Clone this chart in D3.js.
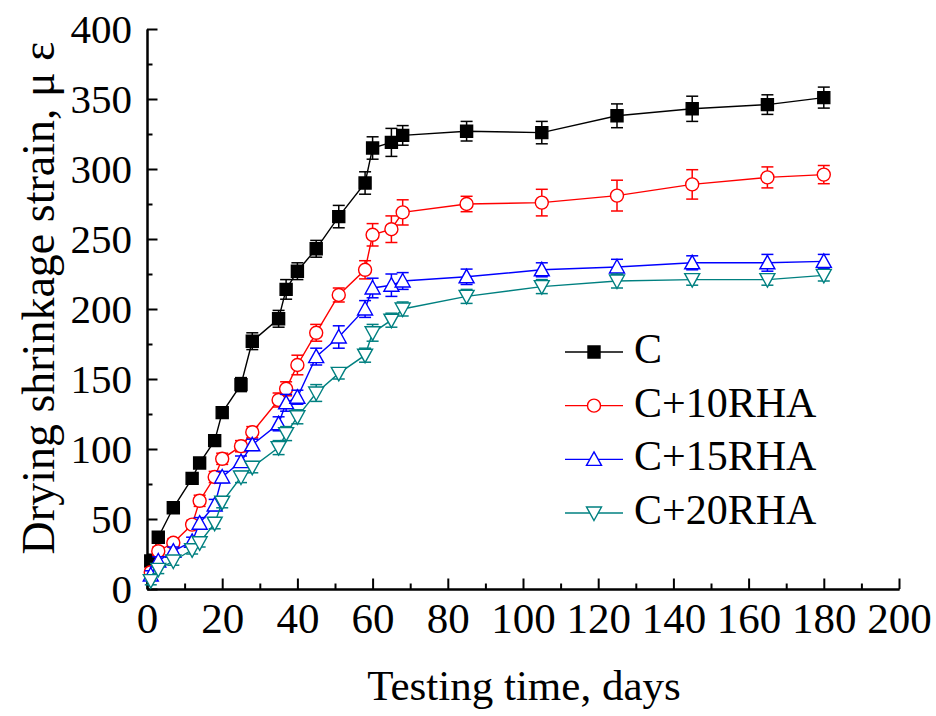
<!DOCTYPE html>
<html>
<head>
<meta charset="utf-8">
<script src="https://cdn.jsdelivr.net/npm/d3@7"></script>
<style>
  html, body { margin: 0; padding: 0; background: #fff; }
  svg { display: block; }
  text { font-family: "Liberation Serif", "Times New Roman", serif; fill: #000; }
</style>
</head>
<body>
<svg id="chart" width="936" height="716"></svg>
<script>
// Testing age (days)
const days = [1, 3, 7, 12, 14, 18, 20, 25, 28, 35, 37, 40, 45, 51, 58, 60, 65, 68, 85, 105, 125, 145, 165, 180];

// Drying shrinkage strain (micro-strain) per mix
const strainC     = [20, 37, 58, 79, 90, 106, 126, 146, 177, 193, 214, 227, 243, 266, 290, 315, 319, 324, 327, 326, 338, 343, 346, 351];
const strainC10   = [12, 27, 33, 46, 63, 80, 93, 102, 112, 135, 143, 160, 183, 210, 228, 253, 257, 269, 275, 276, 281, 289, 294, 296];
const strainC15   = [10, 20, 27, 34, 47, 60, 80, 91, 103, 118, 133, 137, 166, 180, 200, 215, 217, 220, 223, 228, 230, 233, 233, 234];
const strainC20   = [6, 14, 20, 28, 33, 47, 62, 80, 87, 101, 111, 123, 140, 154, 167, 183, 192, 200, 209, 216, 220, 221, 221, 224];

// Standard deviations (error bars)
const errC   = [3, 3, 3, 3, 3, 4, 3, 5, 6, 6, 7, 6, 6, 8, 8, 8, 10, 7, 7, 8, 8.5, 9, 7, 7.5];
const errC10 = [3, 3, 3, 3, 4, 4, 4, 4, 4, 5, 5, 7, 6, 5, 6.5, 8, 9.5, 9, 5.5, 9.5, 11, 10.5, 7.5, 6.5];
const errC15 = [3, 3, 3, 3, 4, 4, 4, 4, 4, 5, 6, 5, 6, 8, 6, 7, 8, 6, 5.5, 5, 5.5, 5, 6, 5];
const errC20 = [3, 3, 3, 3, 3, 4, 4, 4, 4, 5, 5, 5, 6, 4, 5, 6, 5, 5, 5, 5, 5, 4, 4, 4];

const seriesNames = ["C", "C+10RHA", "C+15RHA", "C+20RHA"];
const seriesColors = ["#000000", "#ff0000", "#0000ff", "#008080"];
const seriesShapes = ["square", "circle", "triangleUp", "triangleDown"];

const xTicks = [0, 20, 40, 60, 80, 100, 120, 140, 160, 180, 200];
const yTicks = [0, 50, 100, 150, 200, 250, 300, 350, 400];

const seriesValues = [strainC, strainC10, strainC15, strainC20];
const seriesErrors = [errC, errC10, errC15, errC20];

const series = seriesNames.map((name, i) => ({
  name,
  color: seriesColors[i],
  shape: seriesShapes[i],
  points: days.map((d, j) => ({ x: d, y: seriesValues[i][j], e: seriesErrors[i][j] }))
}));

const svg = d3.select("#chart");
const x = d3.scaleLinear().domain([0, 200]).range([147, 899]);
const y = d3.scaleLinear().domain([0, 400]).range([589, 29]);

// marker path generators centred on the origin
function markerPath(shape) {
  if (shape === "square") return "M-6,-6H6V6H-6Z";
  if (shape === "circle") return "M-6.5,0A6.5,6.5 0 1,0 6.5,0A6.5,6.5 0 1,0 -6.5,0Z";
  if (shape === "triangleUp") return "M0,-7.5L7.5,6L-7.5,6Z";
  return "M0,7.5L7.5,-6L-7.5,-6Z";
}

// ---- axes ----
const axisG = svg.append("g");

const xMajor = d3.axisBottom(x).tickValues(xTicks).tickSizeInner(-10.5).tickSizeOuter(0).tickFormat(d3.format("d"));
const xMinor = d3.axisBottom(x).tickValues(d3.range(10, 200, 20)).tickSizeInner(-5.5).tickSizeOuter(0).tickFormat("");
const yMajor = d3.axisLeft(y).tickValues(yTicks).tickSizeInner(-10.5).tickSizeOuter(0).tickFormat(d3.format("d"));
const yMinor = d3.axisLeft(y).tickValues(d3.range(25, 400, 50)).tickSizeInner(-5.5).tickSizeOuter(0).tickFormat("");

const gxMinor = axisG.append("g").attr("transform", `translate(0,${y(0)})`).call(xMinor);
const gyMinor = axisG.append("g").attr("transform", `translate(${x(0)},0)`).call(yMinor);
const gx = axisG.append("g").attr("transform", `translate(0,${y(0)})`).call(xMajor);
const gy = axisG.append("g").attr("transform", `translate(${x(0)},0)`).call(yMajor);

[gx, gy, gxMinor, gyMinor].forEach(g => {
  g.select(".domain").attr("stroke", "#000").attr("stroke-width", 2);
  g.selectAll(".tick line").attr("stroke", "#000").attr("stroke-width", 2);
});
gx.selectAll(".tick text")
  .attr("y", 44).attr("dy", null)
  .style("font-family", "'Liberation Serif', serif")
  .style("font-size", "43px");
gy.selectAll(".tick text")
  .attr("x", -15).attr("dy", "0.34em")
  .style("font-family", "'Liberation Serif', serif")
  .style("font-size", "41px");

// axis titles
svg.append("text")
  .attr("x", 524).attr("y", 700)
  .attr("text-anchor", "middle")
  .style("font-size", "43px")
  .text("Testing time, days");

svg.append("text")
  .attr("transform", "translate(54,298) rotate(-90)")
  .attr("text-anchor", "middle")
  .style("font-size", "46px")
  .text("Drying shrinkage strain, μ ε");

// ---- series ----
const line = d3.line().x(d => x(d.x)).y(d => y(d.y));

series.forEach(s => {
  const g = svg.append("g");
  g.append("path")
    .datum(s.points)
    .attr("d", line)
    .attr("fill", "none")
    .attr("stroke", s.color)
    .attr("stroke-width", 1.4);

  const eb = g.selectAll(".eb").data(s.points).enter().append("g");
  eb.append("line")
    .attr("x1", d => x(d.x)).attr("x2", d => x(d.x))
    .attr("y1", d => y(d.y - d.e)).attr("y2", d => y(d.y + d.e))
    .attr("stroke", s.color).attr("stroke-width", 1.5);
  [-1, 1].forEach(sign => {
    eb.append("line")
      .attr("x1", d => x(d.x) - 6).attr("x2", d => x(d.x) + 6)
      .attr("y1", d => y(d.y + sign * d.e)).attr("y2", d => y(d.y + sign * d.e))
      .attr("stroke", s.color).attr("stroke-width", 1.5);
  });

  g.selectAll(".mk").data(s.points).enter().append("path")
    .attr("transform", d => `translate(${x(d.x)},${y(d.y)})`)
    .attr("d", markerPath(s.shape))
    .attr("fill", s.shape === "square" ? s.color : "#fff")
    .attr("stroke", s.color)
    .attr("stroke-width", 1.4);
});

// ---- legend ----
const legend = svg.append("g");
const legendRowY = d3.scaleLinear().domain([0, 3]).range([352, 513]);
series.forEach((s, i) => {
  const ly = legendRowY(i);
  legend.append("line")
    .attr("x1", 565).attr("x2", 623).attr("y1", ly).attr("y2", ly)
    .attr("stroke", s.color).attr("stroke-width", 1.4);
  legend.append("path")
    .attr("transform", `translate(594,${ly})`)
    .attr("d", markerPath(s.shape))
    .attr("fill", s.shape === "square" ? s.color : "#fff")
    .attr("stroke", s.color).attr("stroke-width", 1.4);
  legend.append("text")
    .attr("x", 634).attr("y", ly + 11)
    .style("font-size", "42px")
    .text(s.name);
});
</script>
</body>
</html>
